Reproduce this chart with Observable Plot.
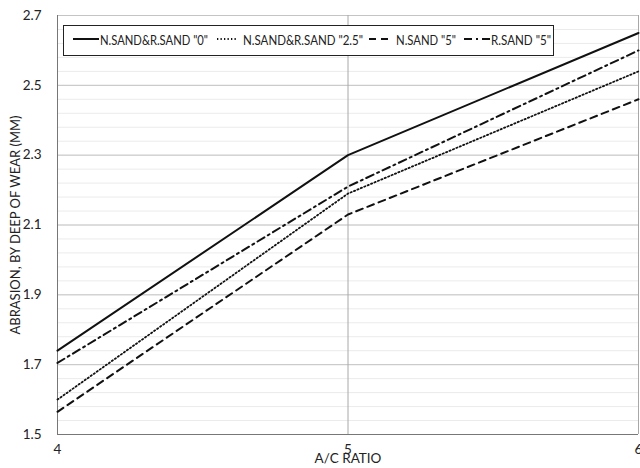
<!DOCTYPE html>
<html><head><meta charset="utf-8">
<script src="https://cdn.jsdelivr.net/npm/d3@7"></script>
<script src="https://cdn.jsdelivr.net/npm/@observablehq/plot@0.6"></script>
<style>
body{margin:0;background:#fff;font-family:Lato,sans-serif;}
#wrap{position:relative;width:640px;height:468px;}
#legend{position:absolute;left:63px;top:25px;width:491px;height:31px;border:1px solid #222;background:#fff;box-sizing:border-box;font-size:13.5px;color:#222;white-space:nowrap;}
#legend svg,#legend span{position:absolute;}
#legend span{top:6px;transform-origin:0 50%;}
#legend svg{top:10px;}
</style></head>
<body><div id="wrap"><div id="legend"></div></div>
<script>
const ratios = [4, 5, 6];
const seriesNames = ['N.SAND&R.SAND "0"', 'N.SAND&R.SAND "2.5"', 'N.SAND "5"', 'R.SAND "5"'];
const sand0 = [1.74, 2.30, 2.65];
const sand25 = [1.60, 2.19, 2.54];
const nsand5 = [1.565, 2.13, 2.46];
const rsand5 = [1.705, 2.21, 2.60];
const yTicks = [1.5, 1.7, 1.9, 2.1, 2.3, 2.5, 2.7];
const dashes = [null, "1.3,2.4", "7,5", "8,4,2,4"];
const widths = [2, 1.8, 2, 2];

const allSeries = [sand0, sand25, nsand5, rsand5];
const data = allSeries.flatMap((vals, i) => vals.map((v, j) => ({series: seriesNames[i], x: ratios[j], y: v})));
const minor = d3.range(0, 31).map(i => +(1.5 + i * 0.04).toFixed(2));

const chart = Plot.plot({
  width: 640, height: 468,
  marginLeft: 57, marginRight: 2, marginTop: 15, marginBottom: 34,
  style: {fontFamily: "Lato, sans-serif", fontSize: "13.5px", color: "#222", background: "#fff"},
  x: {domain: [4, 6], label: null},
  y: {domain: [1.5, 2.7], label: null},
  marks: [
    Plot.ruleY(minor, {stroke: "#ebebeb", strokeWidth: 1}),
    Plot.ruleY(yTicks, {stroke: "#c4c4c4", strokeWidth: 1}),
    Plot.ruleX(ratios, {stroke: "#a8a8a8", strokeWidth: 1}),
    Plot.ruleX([4], {stroke: "#777", strokeWidth: 1}),
    Plot.ruleY([1.5], {stroke: "#777", strokeWidth: 1}),
    ...allSeries.map((vals, i) => Plot.line(data.filter(d => d.series === seriesNames[i]), {x: "x", y: "y", stroke: "#111", strokeWidth: widths[i], strokeDasharray: dashes[i]})),
    Plot.axisX({ticks: ratios, tickSize: 0, tickPadding: 10, tickFormat: d => d, label: null}),
    Plot.axisY({ticks: yTicks, tickSize: 0, tickPadding: 16, tickFormat: d => d.toFixed(1), label: null}),
    Plot.text(["A/C RATIO"], {frameAnchor: "bottom", dy: 28.5, fontSize: 13.5}),
    Plot.text(["ABRASION, BY DEEP OF WEAR (MM)"], {frameAnchor: "left", textAnchor: "middle", dx: -42, rotate: -90, fontSize: 13})
  ]
});
document.getElementById("wrap").prepend(chart);
chart.style.position = "absolute"; chart.style.left = "0"; chart.style.top = "0";

// legend layout (sample start, sample width, text start, text width) relative to box
const legendPos = [[9, 26, 36, 108], [153, 20, 179, 120], [305, 20, 332, 60], [400, 26, 427, 60]];
const legend = document.getElementById("legend");
seriesNames.forEach((name, i) => {
  const [sx, sw, tx, tw] = legendPos[i];
  const s = d3.create("svg").attr("width", sw).attr("height", 6).style("left", sx + "px");
  s.append("line").attr("x1", 0).attr("x2", sw).attr("y1", 3).attr("y2", 3)
    .attr("stroke", "#111").attr("stroke-width", widths[i]).attr("stroke-dasharray", i === 1 ? "1.3,2.2" : dashes[i]);
  legend.appendChild(s.node());
  const t = document.createElement("span");
  t.style.left = tx + "px";
  t.textContent = name;
  legend.appendChild(t);
  const w = t.getBoundingClientRect().width;
  if (w > 0) t.style.transform = `scaleX(${tw / w})`;
});
</script></body></html>
